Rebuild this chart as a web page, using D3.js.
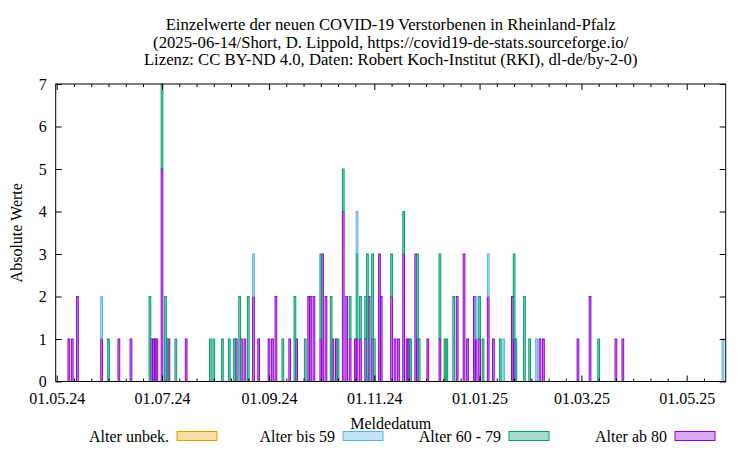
<!DOCTYPE html>
<html><head><meta charset="utf-8">
<script src="https://cdn.jsdelivr.net/npm/d3@7"></script>
<style>
body{margin:0;background:#fff}
svg text{font-family:"Liberation Serif","Times New Roman",serif;font-size:16px;fill:#000}
</style>
</head><body>
<svg id="c" width="750" height="450"></svg>
<script>
const titleLines = [
  "Einzelwerte der neuen COVID-19 Verstorbenen in Rheinland-Pfalz",
  "(2025-06-14/Short, D. Lippold, https://covid19-de-stats.sourceforge.io/",
  "Lizenz: CC BY-ND 4.0, Daten: Robert Koch-Institut (RKI), dl-de/by-2-0)"
];
const xLabel = "Meldedatum";
const yLabel = "Absolute Werte";
const seriesNames = ["Alter unbek.", "Alter bis 59", "Alter 60 - 79", "Alter ab 80"];
const seriesColors = ["#e69f00", "#56b4e9", "#009e73", "#9400d3"];
const xTickDates = ["2024-05-01","2024-07-01","2024-09-01","2024-11-01","2025-01-01","2025-03-01","2025-05-01"];
const xTickLabels = ["01.05.24","01.07.24","01.09.24","01.11.24","01.01.25","01.03.25","01.05.25"];
const yTicks = [0,1,2,3,4,5,6,7];

const dates = [
"2024-05-08","2024-05-10","2024-05-13","2024-05-27","2024-05-31","2024-06-06","2024-06-13","2024-06-24","2024-06-25","2024-06-26",
"2024-06-27","2024-06-28","2024-07-01","2024-07-03","2024-07-04","2024-07-05","2024-07-09","2024-07-15","2024-07-29","2024-07-31",
"2024-08-05","2024-08-09","2024-08-12","2024-08-13","2024-08-15","2024-08-16","2024-08-18","2024-08-20","2024-08-23","2024-08-26",
"2024-09-01","2024-09-03","2024-09-05","2024-09-09","2024-09-13","2024-09-16","2024-09-17","2024-09-22","2024-09-24","2024-09-25",
"2024-09-27","2024-10-01","2024-10-02","2024-10-04","2024-10-07","2024-10-08","2024-10-10","2024-10-11","2024-10-14","2024-10-16",
"2024-10-18","2024-10-21","2024-10-22","2024-10-24","2024-10-27","2024-10-28","2024-10-29","2024-10-31","2024-11-01","2024-11-04",
"2024-11-05","2024-11-11","2024-11-13","2024-11-15","2024-11-18","2024-11-20","2024-11-21","2024-11-22","2024-11-25","2024-11-26",
"2024-11-27","2024-12-02","2024-12-09","2024-12-12","2024-12-13","2024-12-17","2024-12-19","2024-12-23","2024-12-25","2024-12-29",
"2024-12-30","2025-01-01","2025-01-03","2025-01-06","2025-01-09","2025-01-13","2025-01-15","2025-01-20","2025-01-21","2025-01-22",
"2025-01-27","2025-01-30","2025-02-03","2025-02-05","2025-02-07","2025-02-27","2025-03-06","2025-03-11","2025-03-21","2025-03-25",
"2025-05-22"
];
const ab80 = [
1,1,2,1,0,1,1,0,1,1,
1,1,5,0,0,1,0,1,0,0,
0,0,0,1,0,1,1,0,2,1,
1,1,2,0,1,0,1,0,2,2,
2,1,3,2,0,1,1,0,4,2,
1,1,1,1,1,0,2,1,0,3,
2,2,1,1,3,1,1,0,3,1,
0,1,1,0,0,0,2,3,1,2,
1,1,0,2,1,0,0,2,1,0,
0,0,0,1,1,1,2,0,1,1,
0
];
const alter6079 = [
0,0,0,0,1,0,0,2,0,0,
0,0,2,2,1,0,1,0,1,1,
1,1,1,0,2,0,0,2,0,0,
0,0,0,1,0,2,0,1,0,0,
0,2,0,0,2,0,0,1,1,0,
1,0,2,1,1,3,0,2,1,0,
0,1,0,0,1,0,0,1,0,2,
1,0,2,1,1,2,0,0,0,0,
0,1,1,0,0,1,0,0,2,1,
2,1,0,0,0,0,0,1,0,0,
0
];
const bis59 = [
0,0,0,1,0,0,0,0,0,0,
0,0,0,0,0,0,0,0,0,0,
0,0,0,0,0,0,0,0,1,0,
0,0,0,0,0,0,0,0,0,0,
0,0,0,0,0,0,0,0,0,0,
0,0,1,0,0,0,0,0,0,0,
0,0,0,0,0,0,0,0,0,0,
0,0,0,0,0,0,0,0,0,0,
1,0,0,1,0,0,1,0,0,0,
0,0,1,0,0,0,0,0,0,0,
1
];
const unbek = [
0,0,0,0,0,0,0,0,0,0,
0,0,0,0,0,0,0,0,0,0,
0,0,0,0,0,0,0,0,0,0,
0,0,0,0,0,0,0,0,0,0,
0,0,0,0,0,0,0,0,0,0,
0,0,0,0,0,0,0,0,0,0,
0,0,0,0,0,0,0,0,0,0,
0,0,0,0,0,0,0,0,0,0,
0,0,0,0,0,0,0,0,0,0,
0,0,0,0,0,0,0,0,0,0,
0
];

const parse = d3.utcParse("%Y-%m-%d");
const rows = dates.map((d, i) => ({date: parse(d), ab80: ab80[i], a6079: alter6079[i], bis59: bis59[i], unbek: unbek[i]}));
const keys = ["ab80", "a6079", "bis59", "unbek"];
const keyColor = {ab80: seriesColors[3], a6079: seriesColors[2], bis59: seriesColors[1], unbek: seriesColors[0]};
const stacked = d3.stack().keys(keys)(rows);

const L = 55.7, R = 725.7, T = 84, B = 381.5;
const x = d3.scaleUtc()
  .domain([new Date(Date.UTC(2024, 3, 30, 9, 36)), new Date(Date.UTC(2025, 4, 23, 14, 24))])
  .range([L, R]);
const y = d3.scaleLinear().domain([0, 7]).range([B, T]);
const d0 = x.domain()[0];
const dayW = x(d3.utcDay.offset(d0, 1)) - x(d0);

const svg = d3.select("#c");

// title
svg.append("g").selectAll("text").data(titleLines).join("text")
  .attr("x", (L + R) / 2).attr("y", (d, i) => 30 + i * 17.5)
  .attr("text-anchor", "middle").style("font-size", "16.7px").text(d => d);

// bars
const gBars = svg.append("g");
stacked.forEach(layer => {
  gBars.append("g").selectAll("rect")
    .data(layer.filter(d => d[1] > d[0]))
    .join("rect")
    .attr("x", d => x(d.data.date) - dayW / 2)
    .attr("width", dayW)
    .attr("y", d => y(d[1]))
    .attr("height", d => y(d[0]) - y(d[1]))
    .attr("fill", keyColor[layer.key])
    .attr("fill-opacity", 0.45)
    .attr("stroke", keyColor[layer.key])
    .attr("stroke-width", 1);
});

// ticks
const xt = xTickDates.map(parse);
const minor = [];
xt.forEach((m, i) => {
  const next = i + 1 < xt.length ? xt[i + 1] : x.domain()[1];
  for (let k = 1; k <= 5; k++) {
    const t = d3.utcDay.offset(m, 10 * k);
    if (x(t) < x(next) - 4 && x(t) < R - 6) minor.push(t);
  }
});

function styleAxis(g) {
  g.select(".domain").remove();
  g.selectAll("line").attr("stroke", "#000");
  g.selectAll("text").attr("font-family", "Liberation Serif, serif").attr("font-size", 16.4).attr("fill", "#000");
}
svg.append("g").attr("transform", `translate(0,${B})`)
  .call(d3.axisBottom(x).tickValues(xt).tickFormat((d, i) => xTickLabels[i]).tickSize(-6).tickPadding(11))
  .call(styleAxis);
svg.append("g").attr("transform", `translate(0,${B})`)
  .call(d3.axisBottom(x).tickValues(minor).tickFormat("").tickSize(-3))
  .call(styleAxis);
svg.append("g").attr("transform", `translate(0,${T})`)
  .call(d3.axisTop(x).tickValues(xt).tickFormat("").tickSize(-6))
  .call(styleAxis);
svg.append("g").attr("transform", `translate(0,${T})`)
  .call(d3.axisTop(x).tickValues(minor).tickFormat("").tickSize(-3))
  .call(styleAxis);
svg.append("g").attr("transform", `translate(${L},0)`)
  .call(d3.axisLeft(y).tickValues(yTicks).tickFormat(d3.format("d")).tickSize(-6).tickPadding(9))
  .call(styleAxis);
svg.append("g").attr("transform", `translate(${R},0)`)
  .call(d3.axisRight(y).tickValues(yTicks).tickFormat("").tickSize(-6))
  .call(styleAxis);

// frame
svg.append("rect").attr("x", L).attr("y", T).attr("width", R - L).attr("height", B - T)
  .attr("fill", "none").attr("stroke", "#000").attr("stroke-width", 1);

// axis labels
svg.append("text").attr("x", (L + R) / 2).attr("y", 429).attr("text-anchor", "middle").text(xLabel);
svg.append("text").attr("transform", `translate(22,${(T + B) / 2}) rotate(-90)`)
  .attr("text-anchor", "middle").text(yLabel);

// legend
const legEnds = [169, 335, 501, 667];
const lg = svg.append("g");
seriesNames.forEach((n, i) => {
  lg.append("text").attr("x", legEnds[i]).attr("y", 442).attr("text-anchor", "end").text(n);
  lg.append("rect").attr("x", legEnds[i] + 8).attr("y", 431.5).attr("width", 40).attr("height", 9)
    .attr("fill", seriesColors[i]).attr("fill-opacity", 0.35)
    .attr("stroke", seriesColors[i]).attr("stroke-width", 1);
});
</script>
</body></html>
